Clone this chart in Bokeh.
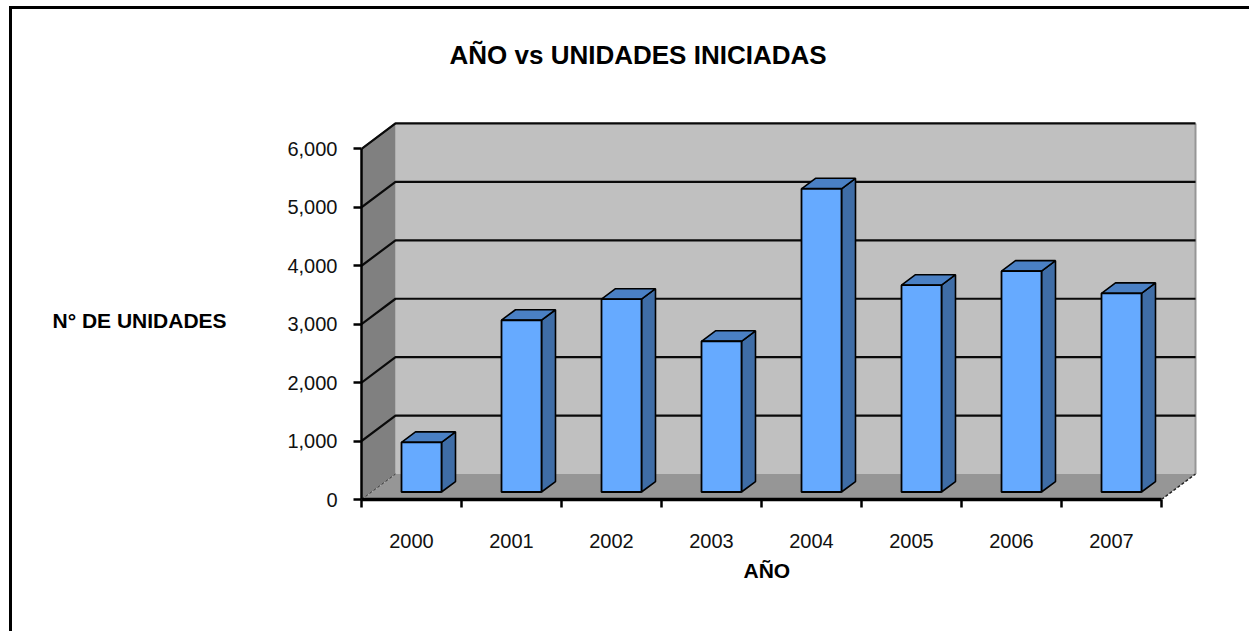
from bokeh.plotting import figure
from bokeh.embed import file_html
from bokeh.resources import INLINE
from bokeh.models import FixedTicker, Range1d, NumeralTickFormatter, Title

years = ["2000", "2001", "2002", "2003", "2004", "2005", "2006", "2007"]
units = [850, 2940, 3300, 2580, 5190, 3540, 3780, 3400]
y_ticks = [0, 1000, 2000, 3000, 4000, 5000, 6000]

TITLE = "AÑO vs UNIDADES INICIADAS"
XLABEL = "AÑO"
YLABEL = "N° DE UNIDADES"
FONT = "Liberation Sans"

# page geometry
ORG_X, ORG_Y = 12, 9          # where the canvas starts, inside the chart's frame
BORDER = 3
W, H = 1249 - ORG_X + BORDER, 631 - ORG_Y + BORDER
PX_X = 100.0
PX_Y = 351 / 6000
AX_X, AX_Y = 361, 499.5
FR_R, FR_T = 1205, 95


def dy(px):
    return px / PX_Y


def dx(px):
    return px / PX_X


def X(px):
    return (px - AX_X) / PX_X


def Y(py):
    return (AX_Y - py) / PX_Y


DEPTH_X, DEPTH_Y = dx(34), dy(25.5)
n = len(years)

p = figure(
    width=W, height=H, output_backend="svg", toolbar_location=None,
    x_range=Range1d(0, X(FR_R)), y_range=Range1d(0, Y(FR_T)),
    min_border_left=AX_X - ORG_X, min_border_right=1249 - FR_R + BORDER,
    min_border_top=FR_T - ORG_Y, min_border_bottom=631 - int(AX_Y) + BORDER,
    outline_line_color=None, background_fill_color="white",
    margin=(6, 0, 0, 9),
    styles={"border-top": "3px solid black", "border-left": "3px solid black"},
)
p.grid.visible = False

top = y_ticks[-1]
# back wall, side wall, floor
p.quad(left=DEPTH_X, right=n + DEPTH_X, bottom=DEPTH_Y, top=top + DEPTH_Y,
       fill_color="#C0C0C0", line_color=None)
p.patch([0, DEPTH_X, DEPTH_X, 0], [0, DEPTH_Y, top + DEPTH_Y, top],
        fill_color="#808080", line_color=None)
p.patch([0, n, n + DEPTH_X, DEPTH_X], [0, 0, DEPTH_Y, DEPTH_Y],
        fill_color="#969696", line_color=None)
# wall edges
p.line([n + DEPTH_X, n + DEPTH_X], [DEPTH_Y, top + DEPTH_Y], line_color="#969696", line_width=2)
p.line([0, DEPTH_X], [top, top + DEPTH_Y], line_color="#333333", line_width=1.5)
p.line([0, DEPTH_X], [0, DEPTH_Y], line_color="#333333", line_width=1, line_dash="3 2")
p.line([n, n + DEPTH_X], [0, DEPTH_Y], line_color="#222222", line_width=1.5, line_dash="3 2")
# grid lines: back wall and slanted side
for t in y_ticks[1:]:
    p.line([0, DEPTH_X, n + DEPTH_X], [t, t + DEPTH_Y, t + DEPTH_Y],
           line_color="#0a0a0a", line_width=2.2)

# bars
BASE_X, BASE_Y = dx(10), dy(7.5)
BW = dx(20)
BD_X, BD_Y = dx(14), dy(10.5)
cx = [i + 0.5 + BASE_X for i in range(n)]
lefts = [c - BW for c in cx]
rights = [c + BW for c in cx]
tops = [v + BASE_Y for v in units]

side_x = [[r, r + BD_X, r + BD_X, r] for r in rights]
side_y = [[BASE_Y, BASE_Y + BD_Y, t + BD_Y, t] for t in tops]
top_x = [[l, l + BD_X, r + BD_X, r] for l, r in zip(lefts, rights)]
top_y = [[t, t + BD_Y, t + BD_Y, t] for t in tops]
p.patches(side_x, side_y, fill_color="#3F6DA6", line_color="black", line_width=1.6)
p.patches(top_x, top_y, fill_color="#4A80C4", line_color="black", line_width=1.6)
p.quad(left=lefts, right=rights, bottom=BASE_Y, top=tops,
       fill_color="#66AAFF", line_color="black", line_width=1.8)

# y axis
ya = p.yaxis[0]
ya.ticker = FixedTicker(ticks=y_ticks)
ya.bounds = (0, top)
ya.formatter = NumeralTickFormatter(format="0,0")
ya.axis_line_width = 2.5
ya.axis_line_color = "black"
ya.major_tick_line_width = 2.5
ya.major_tick_line_color = "black"
ya.major_tick_out = 8
ya.major_tick_in = 0
ya.minor_tick_line_color = None
ya.major_label_standoff = 16
ya.major_label_text_font = FONT
ya.major_label_text_font_size = "20px"
ya.major_label_text_color = "#111111"

# x axis: labels between the ticks
xa = p.xaxis[0]
xa.ticker = FixedTicker(ticks=[i + 0.5 for i in range(n)],
                        minor_ticks=list(range(n + 1)))
xa.bounds = (0, n)
xa.major_label_overrides = {i + 0.5: y for i, y in enumerate(years)}
xa.axis_line_width = 3.5
xa.axis_line_color = "black"
xa.major_tick_line_color = None
xa.major_tick_out = 0
xa.major_tick_in = 0
xa.minor_tick_line_color = "black"
xa.minor_tick_line_width = 2.5
xa.minor_tick_out = 8
xa.minor_tick_in = 0
xa.major_label_standoff = 26
xa.major_label_text_font = FONT
xa.major_label_text_font_size = "20px"
xa.major_label_text_color = "#111111"


def heading(text, size, left, standoff, align="bottom"):
    return Title(text=text, align="left", offset=left - AX_X, standoff=standoff,
                 vertical_align=align, text_font=FONT, text_font_style="bold",
                 text_font_size=size, text_color="black")


p.add_layout(heading(TITLE, "26px", 449, 52), "above")
p.add_layout(heading(YLABEL, "21px", 52, -640), "above")
p.add_layout(heading(XLABEL, "21px", 743, 16, "top"), "below")

open("out.html", "w").write(file_html(p, INLINE))
